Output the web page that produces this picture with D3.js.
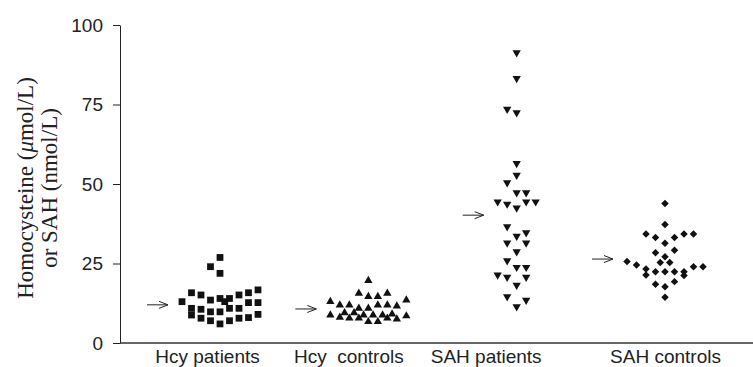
<!DOCTYPE html>
<html lang="en">
<head>
    <meta charset="UTF-8">
    <script src="https://d3js.org/d3.v7.min.js"></script>
    <style>
        body { margin: 0; padding: 0; background: #fff; }
        svg { display: block; }
        .tick text { font-family: "Liberation Sans", Arial, sans-serif; font-size: 19px; fill: #222; }
        .ytitle { font-family: "Liberation Serif", "Times New Roman", serif; font-size: 23px; fill: #222; }
    </style>
</head>
<body>
    <svg id="chart" width="753" height="367"></svg>

    <script>
        // groups shown along the x axis
        const groups = ["Hcy patients", "Hcy  controls", "SAH patients", "SAH controls"];
        const yTicks = [0, 25, 50, 75, 100];

        // [value, column in the dot stack]
        const hcyPatients = [
            [26.9, 0], [24.0, -1], [21.9, 0],
            [13.0, -4],
            [15.8, -3], [10.9, -3], [8.8, -3],
            [15.1, -2], [10.6, -2], [7.8, -2],
            [13.5, -1], [9.8, -1], [7.0, -1],
            [14.0, 0], [9.8, 0], [6.0, 0], [13.0, 0.5],
            [14.0, 1], [10.9, 1], [7.0, 1],
            [15.1, 2], [10.9, 2], [7.8, 2],
            [15.8, 3], [12.7, 3], [8.0, 3],
            [16.7, 4], [12.7, 4], [9.0, 4]
        ];
        const hcyControls = [
            [19.6, 0],
            [15.6, -1], [14.6, 0], [14.6, 1], [15.6, 2],
            [13.0, -4], [11.9, -3], [11.9, -2], [10.9, -1], [10.9, 0], [11.9, 1], [11.9, 2], [11.6, 3], [13.5, 4],
            [8.8, -4], [8.1, -3], [9.5, -2.5], [7.8, -2], [9.5, -1.5], [7.8, -1], [8.8, -0.5], [6.7, 0],
            [8.8, 0.5], [6.7, 1], [8.8, 1.5], [7.8, 2], [9.1, 2.5], [7.5, 3], [8.5, 4]
        ];
        const sahPatients = [
            [91.3, 0], [83.2, 0], [73.5, -1], [72.4, 0], [56.5, 0], [52.8, 0], [50.4, -1],
            [47.3, 0], [47.3, 1], [44.4, -2], [43.7, -1], [42.5, 0], [44.4, 1], [44.4, 2],
            [36.6, -1], [33.6, 0], [34.7, 1], [31.5, -1], [31.5, 1], [28.7, 0],
            [25.9, -1], [23.8, 0], [23.8, 1], [21.4, -2], [20.7, -1], [20.7, 1],
            [18.2, 0], [14.6, -1], [13.5, 1], [11.4, 0]
        ];
        const sahControls = [
            [43.9, 0], [37.3, 0],
            [34.3, -2], [33.2, -1], [31.4, 0], [33.2, 1], [34.3, 2], [34.3, 3],
            [28.4, -1], [29.2, 1], [27.1, 0],
            [25.6, -4], [24.5, -3], [25.3, -0.5], [25.3, 0.5], [23.3, -2], [21.4, -2],
            [22.4, -1], [22.4, 0], [22.4, 1], [22.4, 2], [21.2, 2], [24.0, 3], [24.0, 4],
            [18.5, -1], [17.7, 0], [19.3, 1], [14.4, 0]
        ];
        // group means marked by the arrows
        const means = [12.0, 10.7, 40.2, 26.4];

        const series = [hcyPatients, hcyControls, sahPatients, sahControls];

        function drawChart() {
            const width = 753, height = 367;
            const svg = d3.select("#chart");
            svg.selectAll("*").remove();

            const y = d3.scaleLinear().domain([0, 100]).range([343, 25]);
            const x = d3.scalePoint().domain(groups).range([220, 665]);
            const col = d3.scaleLinear().domain([0, 1]).range([0, 9.5]);

            // symbols per group
            const shapes = [
                { type: d3.symbolSquare, size: 46, rot: 0 },
                { type: d3.symbolTriangle, size: 30, rot: 0 },
                { type: d3.symbolTriangle, size: 30, rot: 180 },
                { type: d3.symbolSquare, size: 28, rot: 45 }
            ];

            // y axis
            svg.append("g")
                .attr("transform", "translate(120,0)")
                .call(d3.axisLeft(y).tickValues(yTicks).tickSize(7).tickSizeOuter(0).tickPadding(10))
                .call(g => g.select(".domain").attr("stroke", "#222"))
                .call(g => g.selectAll(".tick line").attr("stroke", "#222"));

            // x axis
            const labelNudge = [-13, -20, -31, 0];
            svg.append("g")
                .attr("transform", "translate(0,343)")
                .call(d3.axisBottom(x).tickSize(0).tickPadding(7))
                .call(g => g.select(".domain").remove())
                .call(g => g.selectAll(".tick text")
                    .attr("dx", (d, i) => labelNudge[i])
                    .attr("xml:space", "preserve")
                    .style("white-space", "pre"));
            svg.append("line")
                .attr("x1", 120).attr("x2", width)
                .attr("y1", y(0)).attr("y2", y(0))
                .attr("stroke", "#333").attr("stroke-width", 1.5);

            // y title
            const title = svg.append("text")
                .attr("class", "ytitle")
                .attr("transform", `translate(0,188) rotate(-90)`)
                .attr("text-anchor", "middle");
            const l1 = title.append("tspan").attr("x", 0).attr("y", 33);
            l1.append("tspan").text("Homocysteine (");
            l1.append("tspan").attr("font-style", "italic").text("\u03bc");
            l1.append("tspan").text("mol/L)");
            title.append("tspan").attr("x", 0).attr("y", 57).text("or SAH (nmol/L)");

            // points
            series.forEach((data, gi) => {
                const s = shapes[gi];
                const sym = d3.symbol().type(s.type).size(s.size);
                svg.append("g")
                    .selectAll("path")
                    .data(data)
                    .enter()
                    .append("path")
                    .attr("d", sym)
                    .attr("fill", "#111")
                    .attr("transform", d =>
                        `translate(${x(groups[gi]) + col(d[1])},${y(d[0])}) rotate(${s.rot})`);
            });

            // mean arrows
            const arrows = svg.append("g")
                .attr("stroke", "#222").attr("stroke-width", 1).attr("fill", "none");
            means.forEach((m, gi) => {
                const minCol = d3.min(series[gi], d => d[1]);
                const x2 = x(groups[gi]) + col(minCol) - 14;
                const x1 = x2 - 21;
                const yy = y(m);
                arrows.append("line").attr("x1", x1).attr("x2", x2).attr("y1", yy).attr("y2", yy);
                arrows.append("path")
                    .attr("d", `M${x2 - 9},${yy - 3.5} L${x2},${yy} L${x2 - 9},${yy + 3.5}`);
            });
        }

        drawChart();
    </script>
</body>
</html>
